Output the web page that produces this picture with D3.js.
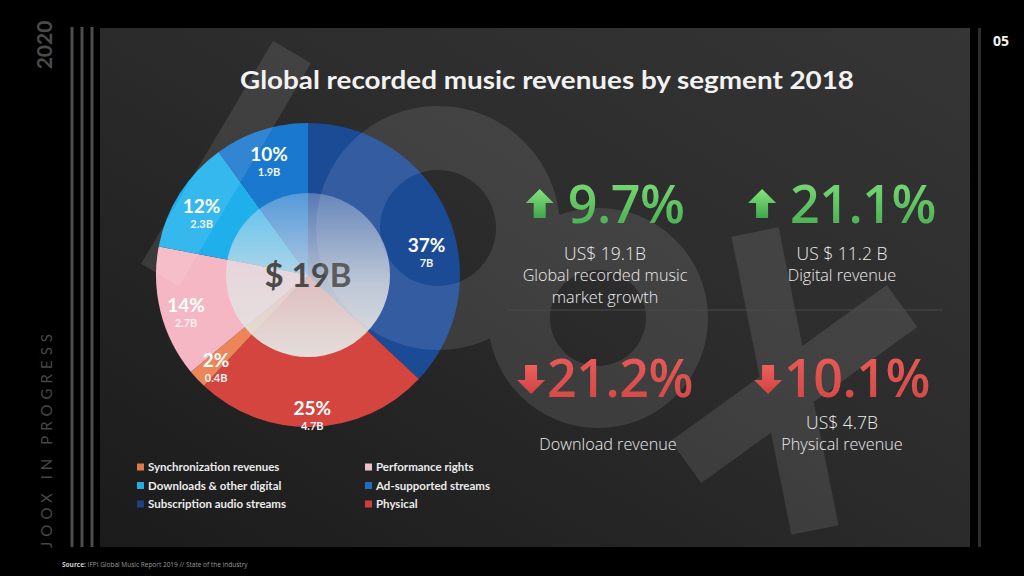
<!DOCTYPE html>
<html>
<head>
<meta charset="utf-8">
<script src="https://cdn.jsdelivr.net/npm/d3@7"></script>
<style>
  html, body { margin: 0; padding: 0; background: #000; }
  svg { display: block; }
</style>
</head>
<body>
<div id="chart"></div>
<script>
// segment data, clockwise from 12 o'clock
const segments = [
  "Subscription audio streams",
  "Physical",
  "Synchronization revenues",
  "Performance rights",
  "Downloads & other digital",
  "Ad-supported streams"
];
const shares = [37, 25, 2, 14, 12, 10];
const amounts = ["7B", "4.7B", "0.4B", "2.7B", "2.3B", "1.9B"];
const sliceColors = ["#1c4b96", "#d5453f", "#ec8659", "#f5b7c3", "#1fb0ec", "#1a78cf"];
const legendOrder = [
  "Synchronization revenues", "Performance rights",
  "Downloads & other digital", "Ad-supported streams",
  "Subscription audio streams", "Physical"
];
const legendColors = ["#df7a50", "#efbfca", "#22ade6", "#1b6fbf", "#1e3f80", "#c93f3f"];

const total = "$ 19B";
const statValues = ["9.7%", "21.1%", "21.2%", "10.1%"];
const statDirections = ["up", "up", "down", "down"];
const statAmounts = ["US$ 19.1B", "US $ 11.2 B", "", "US$ 4.7B"];
const statCaptions = [["Global recorded music", "market growth"], ["Digital revenue"], ["Download revenue"], ["Physical revenue"]];

const title = "Global recorded music revenues by segment 2018";
const source = "IFPI Global Music Report 2019 // State of the Industry";

const W = 1024, H = 576;
const svg = d3.select("#chart").append("svg").attr("width", W).attr("height", H);
const defs = svg.append("defs");

svg.append("rect").attr("width", W).attr("height", H).attr("fill", "#000");

// panel gradient
const pg = defs.append("linearGradient").attr("id", "panelGrad")
  .attr("x1", 0).attr("y1", 1).attr("x2", 1).attr("y2", 0);
pg.append("stop").attr("offset", "0%").attr("stop-color", "#1b1b1b");
pg.append("stop").attr("offset", "55%").attr("stop-color", "#2c2c2c");
pg.append("stop").attr("offset", "100%").attr("stop-color", "#353535");

const green = defs.append("linearGradient").attr("id", "greenGrad")
  .attr("x1", 0).attr("y1", 0).attr("x2", 0).attr("y2", 1);
green.append("stop").attr("offset", "0%").attr("stop-color", "#86e47e");
green.append("stop").attr("offset", "100%").attr("stop-color", "#3fa64b");

const red = defs.append("linearGradient").attr("id", "redGrad")
  .attr("x1", 0).attr("y1", 0).attr("x2", 0).attr("y2", 1);
red.append("stop").attr("offset", "0%").attr("stop-color", "#ee605c");
red.append("stop").attr("offset", "100%").attr("stop-color", "#cf4442");

const innerGrad = defs.append("linearGradient").attr("id", "innerGrad")
  .attr("x1", 0).attr("y1", 0).attr("x2", 0).attr("y2", 1);
innerGrad.append("stop").attr("offset", "0%").attr("stop-color", "#dfe6f0").attr("stop-opacity", 0.3);
innerGrad.append("stop").attr("offset", "55%").attr("stop-color", "#e2e2e4").attr("stop-opacity", 0.78);
innerGrad.append("stop").attr("offset", "100%").attr("stop-color", "#e4e2df").attr("stop-opacity", 0.97);

// frame: side lines and panel
[72, 82, 92].forEach(x => {
  svg.append("rect").attr("x", x - 1.5).attr("y", 27).attr("width", 3).attr("height", 520).attr("fill", "#4d4d4d");
});
svg.append("rect").attr("x", 100).attr("y", 28).attr("width", 870).attr("height", 519).attr("fill", "url(#panelGrad)");
svg.append("rect").attr("x", 978).attr("y", 28).attr("width", 3).attr("height", 519).attr("fill", "#2e2e2e");

svg.append("text").attr("transform", "translate(52,45) rotate(-90)")
  .attr("text-anchor", "middle").attr("font-family", "Lato, sans-serif").attr("font-weight", 700)
  .attr("font-size", 21).attr("fill", "#4b4b4b").text("2020");
svg.append("text").attr("transform", "translate(52,548) rotate(-90)")
  .attr("font-family", "Lato, sans-serif").attr("font-size", 15)
  .attr("textLength", 214).attr("lengthAdjust", "spacing")
  .attr("fill", "#474747").text("JOOX IN PROGRESS");
svg.append("text").attr("x", 1001).attr("y", 46).attr("text-anchor", "middle")
  .attr("font-family", "Open Sans, sans-serif").attr("font-weight", 700).attr("font-size", 14)
  .attr("fill", "#f2f2f2").text("05");

const src = svg.append("text").attr("x", 62).attr("y", 567)
  .attr("font-family", "Open Sans, sans-serif").attr("font-size", 6.5).attr("fill", "#9a9a9a");
src.append("tspan").attr("font-weight", 700).attr("fill", "#cfcfcf").text("Source: ");
src.append("tspan").text(source);

// pie
const cx = 308, cy = 275, R = 152, rInner = 82;
const pie = d3.pie().sort(null).value(d => d.share);
const data = segments.map((s, i) => ({ name: s, share: shares[i], amount: amounts[i] }));
const color = d3.scaleOrdinal(segments, sliceColors);
const arcs = pie(data);
const arc = d3.arc().innerRadius(0).outerRadius(R);

const pieG = svg.append("g").attr("transform", `translate(${cx},${cy})`);
pieG.selectAll("path.slice").data(arcs).enter().append("path")
  .attr("class", "slice").attr("d", arc).attr("fill", d => color(d.data.name));

// faint logo watermark (j o o x), drawn as one translucent layer
const wm = svg.append("g").attr("opacity", 0.1).attr("fill", "#ffffff");
function band(x1, y1, x2, y2, w) {
  const dx = x2 - x1, dy = y2 - y1, L = Math.hypot(dx, dy);
  const nx = -dy / L * w / 2, ny = dx / L * w / 2;
  return `M${x1 + nx},${y1 + ny}L${x2 + nx},${y2 + ny}L${x2 - nx},${y2 - ny}L${x1 - nx},${y1 - ny}Z`;
}
function ring(x, y, r0, r1) {
  return `M${x + r1},${y}A${r1},${r1} 0 1 0 ${x - r1},${y}A${r1},${r1} 0 1 0 ${x + r1},${y}Z` +
    `M${x + r0},${y}A${r0},${r0} 0 1 1 ${x - r0},${y}A${r0},${r0} 0 1 1 ${x + r0},${y}Z`;
}
const wmPath = [
  band(292, 52, 160, 275, 44),
  ring(438, 228, 58, 122),
  ring(598, 318, 48, 110),
  band(755, 232, 815, 530, 48),
  band(902, 306, 686, 462, 52)
].join("");
const clip = defs.append("clipPath").attr("id", "panelClip");
clip.append("rect").attr("x", 100).attr("y", 28).attr("width", 870).attr("height", 519);
wm.attr("clip-path", "url(#panelClip)").append("path").attr("d", wmPath).attr("fill-rule", "nonzero");

// inner translucent disc
pieG.append("circle").attr("r", rInner).attr("fill", "url(#innerGrad)");
pieG.append("text").attr("y", 12).attr("text-anchor", "middle")
  .attr("font-family", "Lato, sans-serif").attr("font-weight", 700).attr("font-size", 33)
  .attr("fill", "#4a4a4a").text(total);

// slice labels
const labelR = 126;
const labels = pieG.selectAll("g.lab").data(arcs).enter().append("g").attr("class", "lab")
  .attr("transform", d => {
    let a = (d.startAngle + d.endAngle) / 2;
    if (d.data.share > 30) a += 0.17;
    const r = d.data.share > 30 ? 122 : d.data.share > 20 ? 134 : labelR;
    return `translate(${Math.sin(a) * r},${-Math.cos(a) * r})`;
  });
labels.append("text").attr("y", 6).attr("text-anchor", "middle")
  .attr("font-family", "Lato, sans-serif").attr("font-weight", 700).attr("font-size", 19)
  .attr("fill", "#ffffff").text(d => d.data.share + "%");
labels.append("text").attr("y", 21).attr("text-anchor", "middle")
  .attr("font-family", "Lato, sans-serif").attr("font-weight", 700).attr("font-size", 11)
  .attr("fill", "#f2f2f2").text(d => d.data.amount);

// title
svg.append("text").attr("x", 547).attr("y", 89).attr("text-anchor", "middle")
  .attr("font-family", "Lato, sans-serif").attr("font-weight", 700).attr("font-size", 24)
  .attr("textLength", 614).attr("lengthAdjust", "spacingAndGlyphs")
  .attr("fill", "#f2f2f2").text(title);

// legend
const legX = d3.scalePoint().domain([0, 1]).range([137, 365]);
const legY = d3.scalePoint().domain([0, 1, 2]).range([467, 504]);
const legColor = d3.scaleOrdinal(legendOrder, legendColors);
const leg = svg.selectAll("g.leg").data(legendOrder).enter().append("g").attr("class", "leg")
  .attr("transform", (d, i) => `translate(${legX(i % 2)},${legY(Math.floor(i / 2))})`);
leg.append("rect").attr("x", 0).attr("y", -3.5).attr("width", 7).attr("height", 7).attr("fill", d => legColor(d));
leg.append("text").attr("x", 11).attr("y", 4).attr("font-family", "Lato, sans-serif")
  .attr("font-weight", 700).attr("font-size", 11.5).attr("fill", "#ececec").text(d => d);

// stats panel
svg.append("line").attr("x1", 507).attr("x2", 943).attr("y1", 310).attr("y2", 310)
  .attr("stroke", "#4a4a4a").attr("stroke-width", 1);

const colX = [605, 842];
const rowY = [223, 397];
const amountOff = [37, 32];
const captionOff = [58, 53];
statValues.forEach((v, i) => {
  const col = i % 2, row = Math.floor(i / 2);
  const up = statDirections[i] === "up";
  const g = svg.append("g");
  const arrow = up
    ? "M0,0L14,14L6,14L6,29L-6,29L-6,14L-14,14Z"
    : "M0,29L14,15L6,15L6,0L-6,0L-6,15L-14,15Z";
  const a = g.append("path").attr("d", arrow).attr("fill", up ? "url(#greenGrad)" : "url(#redGrad)");
  const t = g.append("text").attr("y", rowY[row]).attr("font-family", "Open Sans, sans-serif")
    .attr("font-weight", 600).attr("font-size", 52).attr("letter-spacing", -0.5)
    .attr("fill", up ? "url(#greenGrad)" : "url(#redGrad)").text(v);
  const tw = t.node().getComputedTextLength();
  const gap = up ? 14 : 2;
  const w = 28 + gap + tw;
  const x0 = colX[col] - w / 2;
  a.attr("transform", `translate(${x0 + 14},${up ? rowY[row] - 34 : rowY[row] - 32})`);
  t.attr("x", x0 + 28 + gap);

  if (statAmounts[i]) {
    svg.append("text").attr("x", colX[col]).attr("y", rowY[row] + amountOff[row])
      .attr("text-anchor", "middle").attr("font-family", "Open Sans, sans-serif")
      .attr("font-weight", 300).attr("font-size", 17.5).attr("fill", "#ededed").text(statAmounts[i]);
  }
  const cxText = colX[col] + (row === 1 && col === 0 ? 3 : 0);
  statCaptions[i].forEach((c, j) => {
    svg.append("text").attr("x", cxText).attr("y", rowY[row] + captionOff[row] + j * 22)
      .attr("text-anchor", "middle").attr("font-family", "Open Sans, sans-serif")
      .attr("font-weight", 300).attr("font-size", 16.2).attr("fill", "#ededed").text(c);
  });
});
</script>
</body>
</html>
